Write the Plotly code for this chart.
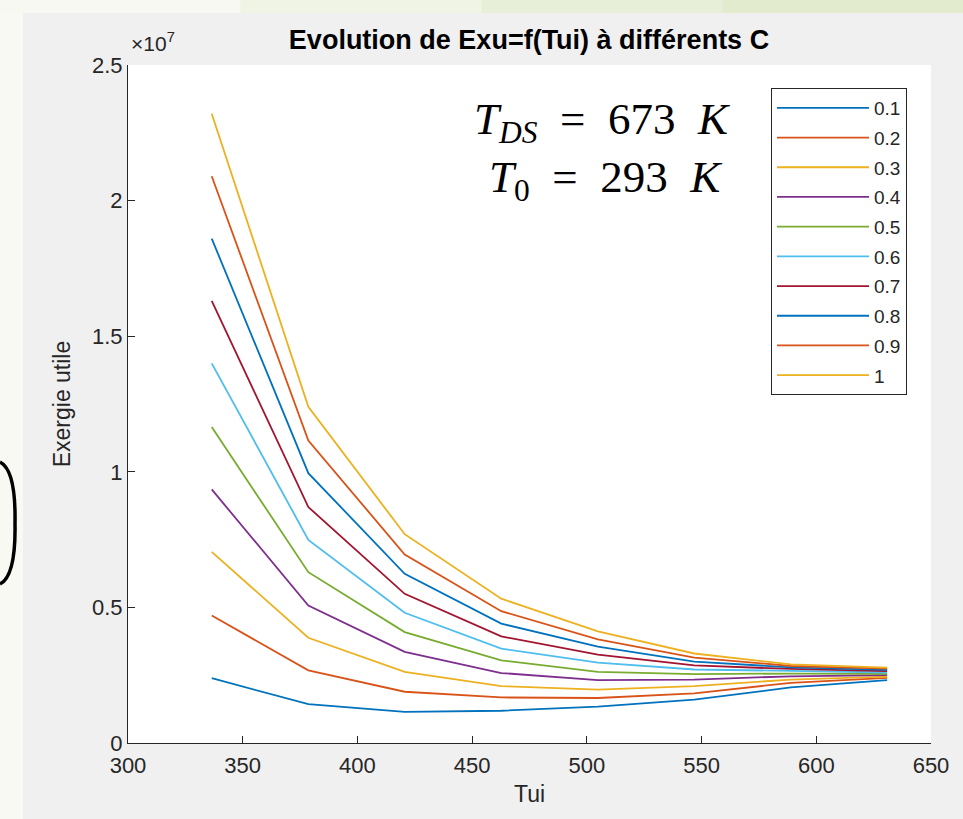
import plotly.graph_objects as go

# Inlet temperature Tui (K)
tui = [336.5, 378.6, 420.6, 462.7, 504.8, 546.8, 588.9, 630.9]

# Useful exergy (x 1e7) for each value of C
c_labels = ["0.1", "0.2", "0.3", "0.4", "0.5", "0.6", "0.7", "0.8", "0.9", "1"]
exu_c01 = [0.239, 0.143, 0.115, 0.119, 0.134, 0.160, 0.205, 0.232]
exu_c02 = [0.470, 0.268, 0.189, 0.168, 0.166, 0.183, 0.222, 0.240]
exu_c03 = [0.705, 0.388, 0.262, 0.210, 0.197, 0.210, 0.234, 0.245]
exu_c04 = [0.935, 0.507, 0.336, 0.258, 0.232, 0.234, 0.246, 0.250]
exu_c05 = [1.165, 0.630, 0.409, 0.305, 0.262, 0.254, 0.256, 0.255]
exu_c06 = [1.400, 0.749, 0.480, 0.348, 0.296, 0.271, 0.266, 0.260]
exu_c07 = [1.630, 0.870, 0.550, 0.393, 0.326, 0.286, 0.273, 0.265]
exu_c08 = [1.860, 0.995, 0.624, 0.440, 0.355, 0.300, 0.279, 0.270]
exu_c09 = [2.090, 1.115, 0.695, 0.486, 0.382, 0.315, 0.284, 0.274]
exu_c10 = [2.320, 1.240, 0.770, 0.532, 0.412, 0.330, 0.290, 0.278]
series = [exu_c01, exu_c02, exu_c03, exu_c04, exu_c05,
          exu_c06, exu_c07, exu_c08, exu_c09, exu_c10]
scale = 1e7

x_ticks = [300, 350, 400, 450, 500, 550, 600, 650]
y_ticks = [0, 0.5, 1, 1.5, 2, 2.5]
y_tick_text = ["0", "0.5", "1", "1.5", "2", "2.5"]

colors = ["#0072BD", "#D95319", "#EDB120", "#7E2F8E", "#77AC30",
          "#4DBEEE", "#A2142F", "#0072BD", "#D95319", "#EDB120"]

W, H = 963, 819
ML, MR, MT, MB = 128, 32, 65, 76
PW, PH = W - ML - MR, H - MT - MB


def px(x):
    return (x - ML) / PW


def py(y):
    return (H - MB - y) / PH


fig = go.Figure()
for i, (lab, vals) in enumerate(zip(c_labels, series)):
    fig.add_trace(go.Scatter(
        x=tui, y=[v * scale for v in vals], mode="lines", name=lab,
        legendgroup=lab,
        line=dict(color=colors[i], width=1.8),
    ))

shapes = []
# surrounding slide background strips
top_cols = ["#f6f8f1", "#eff4e4", "#e8efd8", "#e3ebcf"]
for k, c in enumerate(top_cols):
    shapes.append(dict(type="rect", xref="paper", yref="paper",
                       x0=px(k * W / 4), x1=px((k + 1) * W / 4),
                       y0=py(13), y1=py(0), fillcolor=c, line_width=0,
                       layer="below"))
shapes.append(dict(type="rect", xref="paper", yref="paper",
                   x0=px(0), x1=px(23), y0=py(H), y1=py(13),
                   fillcolor="#f8f9f3", line_width=0, layer="below"))
# bracket on the left edge
path = "M {:.5f},{:.5f}".format(px(0), py(462))
path += " Q {:.5f},{:.5f} {:.5f},{:.5f}".format(px(16), py(470), px(15), py(523))
path += " Q {:.5f},{:.5f} {:.5f},{:.5f}".format(px(16), py(576), px(0), py(584))
shapes.append(dict(type="path", xref="paper", yref="paper", path=path,
                   line=dict(color="#000000", width=3.5)))

sp = "&nbsp;&nbsp;"
annotations = [
    dict(text="×10<sup>7</sup>", xref="paper", yref="paper",
         x=px(129), y=py(57), xanchor="left", yanchor="bottom",
         showarrow=False, font=dict(size=21, color="#262626")),
    dict(text="<i>T</i><sub><i>DS</i></sub>" + sp + "=" + sp + "673" + sp + "<i>K</i>",
         xref="paper", yref="paper", x=px(602), y=py(122),
         xanchor="center", yanchor="middle", showarrow=False,
         font=dict(size=45, color="#000000", family="Liberation Serif")),
    dict(text="<i>T</i><sub>0</sub>" + sp + "=" + sp + "293" + sp + "<i>K</i>",
         xref="paper", yref="paper", x=px(605), y=py(180),
         xanchor="center", yanchor="middle", showarrow=False,
         font=dict(size=45, color="#000000", family="Liberation Serif")),
]

fig.update_layout(
    width=W, height=H,
    margin=dict(l=ML, r=MR, t=MT, b=MB),
    paper_bgcolor="#f0f0f0", plot_bgcolor="#ffffff",
    font=dict(family="Liberation Sans, Arial, sans-serif", color="#262626"),
    title=dict(text="<b>Evolution de Exu=f(Tui) à différents C</b>",
               xref="container", x=529 / W, xanchor="center",
               y=1 - 40 / H, yanchor="middle",
               font=dict(size=27, color="#000000")),
    xaxis=dict(range=[300, 650], tickvals=x_ticks, ticks="inside",
               ticklen=7, tickcolor="#262626", showline=True,
               linecolor="#262626", linewidth=1, showgrid=False,
               zeroline=False, tickfont=dict(size=22), ticklabelstandoff=3,
               title=dict(text="Tui", font=dict(size=23), standoff=8)),
    yaxis=dict(range=[0, 2.5 * scale], tickvals=[v * scale for v in y_ticks],
               ticktext=y_tick_text, ticks="inside", ticklen=7,
               tickcolor="#262626", showline=True, linecolor="#262626",
               linewidth=1, showgrid=False, zeroline=False,
               tickfont=dict(size=22),
               title=dict(text="Exergie utile", font=dict(size=23), standoff=14)),
    legend=dict(x=px(907), y=py(88), xanchor="right", yanchor="top",
                bgcolor="#ffffff", bordercolor="#262626", borderwidth=1,
                font=dict(size=19, color="#262626"), tracegroupgap=2,
                itemwidth=92),
    shapes=shapes,
    annotations=annotations,
)

fig.write_html("out.html")
